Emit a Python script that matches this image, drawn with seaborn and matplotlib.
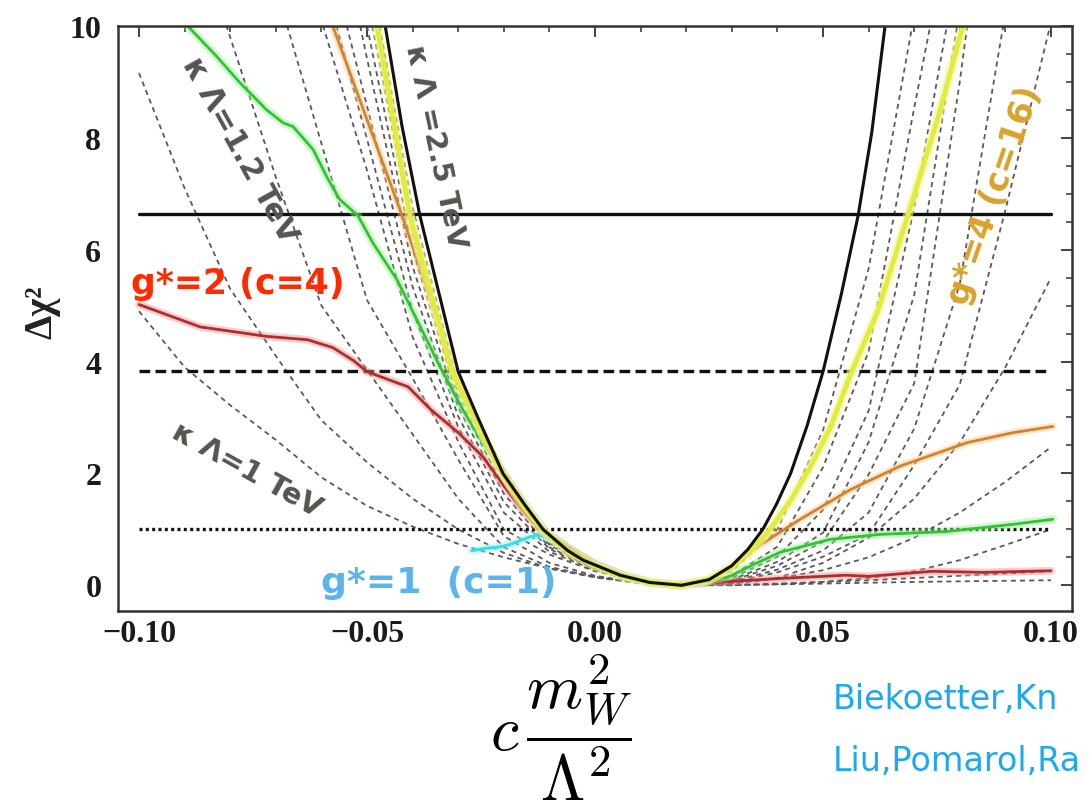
import numpy as np
import pandas as pd
import matplotlib
matplotlib.use("Agg")
import matplotlib.pyplot as plt
import seaborn as sns
from matplotlib.ticker import MultipleLocator, FixedLocator

# ---------------- data ----------------
x_grid = [-0.10, -0.09, -0.08, -0.07, -0.06, -0.05, -0.04, -0.03, -0.02, -0.01,
          0.00, 0.01, 0.02, 0.03, 0.04, 0.05, 0.06, 0.07, 0.08, 0.09, 0.10]

# dashed gray family (kappa*Lambda truncation curves)
dash_1 = [4.9, 3.9, 3.22, 2.6, 1.93, 1.42, 1.05, 0.74, 0.5, 0.3, 0.15, 0.04, 0.0,
          0.005, 0.015, 0.03, 0.045, 0.06, 0.07, 0.08, 0.09]
dash_2 = [9.16, 7.1, 5.3, 4.1, 2.95, 2.2, 1.55, 1.0, 0.58, 0.3, 0.14, 0.035, 0.0,
          0.01, 0.03, 0.06, 0.09, 0.13, 0.17, 0.21, 0.25]
dash_3 = [14.8, 12.3, 9.8, 7.3, 5.0, 3.85, 2.7, 1.55, 0.68, 0.33, 0.15, 0.04, 0.0,
          0.0, 0.02, 0.06, 0.13, 0.25, 0.45, 0.72, 1.0]
dash_4 = [19.0, 16.3, 13.5, 10.7, 7.9, 5.1, 3.7, 2.25, 0.88, 0.4, 0.17, 0.045, 0.0,
          0.03, 0.12, 0.27, 0.5, 0.85, 1.3, 1.85, 2.47]
dash_5 = [20.9, 18.2, 15.5, 12.8, 10.1, 7.42, 4.44, 2.57, 1.0, 0.55, 0.25, 0.06, 0.0,
          0.03, 0.13, 0.4, 0.85, 1.55, 2.55, 3.9, 5.5]
dash_6 = [23.2, 20.2, 17.1, 14.1, 11.0, 7.98, 4.9, 2.83, 1.3, 0.6, 0.27, 0.065, 0.0,
          0.057, 0.23, 0.51, 0.91, 2.15, 3.59, 6.71, 10.07]
dash_7 = [24.9, 21.6, 18.3, 15.1, 11.8, 8.57, 5.34, 3.02, 1.49, 0.65, 0.28, 0.07, 0.0,
          0.07, 0.28, 0.62, 1.3, 2.8, 5.39, 10.24, 15.0]
dash_8 = [28.9, 25.0, 21.1, 17.2, 13.3, 9.42, 5.7, 3.18, 1.64, 0.68, 0.29, 0.07, 0.0,
          0.087, 0.35, 0.78, 1.98, 3.61, 9.01, 15.2, 21.3]
dash_9 = [30.7, 26.5, 22.4, 18.3, 14.1, 10.0, 6.01, 3.3, 1.77, 0.72, 0.3, 0.07, 0.0,
          0.1, 0.42, 0.94, 2.56, 5.19, 10.3, 15.4, 20.6]
dash_10 = [31.9, 27.6, 23.3, 19.0, 14.8, 10.5, 6.27, 3.41, 1.88, 0.75, 0.31, 0.075, 0.0,
           0.13, 0.51, 1.35, 3.12, 6.75, 11.3, 15.8, 20.4]
dash_11 = [32.9, 28.5, 24.1, 19.7, 15.3, 10.9, 6.51, 3.5, 1.99, 0.78, 0.32, 0.075, 0.0,
           0.17, 0.69, 2.11, 4.18, 8.54, 12.7, 16.9, 21.1]
dash_12 = [33.5, 29.1, 24.6, 20.2, 15.7, 11.25, 6.75, 3.58, 2.08, 0.8, 0.33, 0.08, 0.0,
           0.25, 1.0, 2.77, 5.66, 10.2, 14.8, 19.4, 24.0]
dashed_family = [dash_1, dash_2, dash_3, dash_4, dash_5, dash_6,
                 dash_7, dash_8, dash_9, dash_10, dash_11, dash_12]

# coloured profiles
red_x = [-0.100, -0.0866, -0.072, -0.063, -0.0575, -0.053, -0.050, -0.0434, -0.041,
         -0.036, -0.030, -0.0246, -0.020, -0.016, -0.012, -0.006, 0.0, 0.006, 0.012,
         0.018, 0.026, 0.040, 0.055, 0.060, 0.074, 0.085, 0.100]
red_y = [5.02, 4.62, 4.45, 4.39, 4.25, 4.02, 3.82, 3.62, 3.55, 3.14, 2.73, 2.3, 1.78,
         1.35, 0.98, 0.65, 0.38, 0.18, 0.05, 0.0, 0.05, 0.12, 0.18, 0.16, 0.25, 0.23, 0.26]

green_x = [-0.092, -0.0893, -0.0829, -0.0778, -0.072, -0.0684, -0.0662, -0.0618, -0.0588,
           -0.056, -0.052, -0.0487, -0.0434, -0.0412, -0.034, -0.029, -0.0246, -0.020,
           -0.015, -0.011, -0.005, 0.0, 0.006, 0.012, 0.018, 0.025, 0.0296, 0.035,
           0.0406, 0.0515, 0.0625, 0.077, 0.0917, 0.1004]
green_y = [10.3, 10.0, 9.45, 8.98, 8.5, 8.27, 8.2, 7.79, 7.3, 6.9, 6.61, 6.12, 5.46, 5.1,
           3.91, 3.14, 2.55, 2.0, 1.4, 0.97, 0.62, 0.38, 0.18, 0.05, 0.0, 0.08, 0.16,
           0.38, 0.59, 0.82, 0.91, 0.96, 1.09, 1.18]

orange_x = [-0.060, -0.0575, -0.0423, -0.036, -0.031, -0.025, -0.020, -0.015, -0.011,
            -0.005, 0.0, 0.006, 0.012, 0.018, 0.025, 0.030, 0.034, 0.0377, 0.045, 0.056,
            0.0669, 0.0816, 0.0917, 0.1004]
orange_y = [10.8, 10.0, 6.61, 5.1, 3.82, 2.75, 2.0, 1.38, 0.97, 0.62, 0.38, 0.19, 0.05,
            0.0, 0.1, 0.35, 0.6, 0.8, 1.18, 1.71, 2.13, 2.55, 2.73, 2.84]

yellow_x = [-0.050, -0.0478, -0.0406, -0.0314, -0.027, -0.021, -0.016, -0.0118, -0.006,
            0.0, 0.0055, 0.012, 0.019, 0.025, 0.030, 0.0345, 0.0384, 0.043, 0.047,
            0.0515, 0.0563, 0.062, 0.0686, 0.075, 0.0807, 0.083]
yellow_y = [11.0, 10.0, 6.61, 3.82, 3.1, 2.1, 1.45, 1.0, 0.6, 0.35, 0.17, 0.05, 0.0,
            0.1, 0.32, 0.64, 1.0, 1.53, 2.08, 2.8, 3.82, 4.9, 6.61, 8.3, 10.0, 10.7]

black_x = [-0.048, -0.046, -0.0423, -0.0384, -0.034, -0.030, -0.0257, -0.0202, -0.0155,
           -0.0114, -0.006, -0.0026, 0.0055, 0.012, 0.019, 0.025, 0.030, 0.0335, 0.0368,
           0.0398, 0.0429, 0.0465, 0.050, 0.054, 0.0577, 0.0607, 0.0636, 0.065]
black_y = [11.0, 10.0, 8.2, 6.61, 5.15, 3.82, 3.0, 2.0, 1.45, 1.0, 0.62, 0.45, 0.18,
           0.05, 0.0, 0.1, 0.35, 0.64, 1.0, 1.45, 2.0, 2.85, 3.82, 5.2, 6.61, 8.1, 10.0,
           10.8]

cyan_x = [-0.027, -0.024, -0.0215, -0.019, -0.017, -0.0145, -0.0125, -0.0105, -0.008,
          -0.004, 0.0, 0.006, 0.012, 0.018, 0.024]
cyan_y = [0.62, 0.66, 0.68, 0.72, 0.78, 0.86, 0.9, 0.86, 0.76, 0.57, 0.38, 0.18, 0.06,
          0.01, 0.03]

# confidence-level reference lines
cl_levels = [6.63, 3.84, 1.0]
cl_span = [-0.100, 0.100]

x_ticks = [-0.10, -0.05, 0.00, 0.05, 0.10]
x_tick_labels = ["\u22120.10", "\u22120.05", "0.00", "0.05", "0.10"]
y_ticks = [0, 2, 4, 6, 8, 10]
y_tick_labels = ["0", "2", "4", "6", "8", "10"]

# ---------------- figure ----------------
sns.set_style("white")
plt.rcParams["mathtext.fontset"] = "cm"

fig = plt.figure(figsize=(10.89, 8.04), dpi=100)
ax = fig.add_axes([118 / 1089, 1 - 612 / 804, (1072 - 118) / 1089, (612 - 27) / 804])

# dashed family
rows = []
for i, ys in enumerate(dashed_family):
    for xv, yv in zip(x_grid, ys):
        rows.append({"x": xv, "y": yv, "curve": i})
df_dash = pd.DataFrame(rows)
sns.lineplot(data=df_dash, x="x", y="y", units="curve", estimator=None, sort=False,
             color="#5a5a5a", lw=1.3, linestyle=(0, (2.8, 2.3)), ax=ax, legend=False)

# reference lines
cl_styles = [dict(color="#111111", lw=2.4, linestyle="-"),
             dict(color="#111111", lw=2.4, linestyle=(0, (3.2, 1.6))),
             dict(color="#111111", lw=2.4, linestyle=(0, (0.9, 1.0)))]
for lev, st in zip(cl_levels, cl_styles):
    sns.lineplot(x=cl_span, y=[lev, lev], ax=ax, sort=False, estimator=None, **st)


def glow_line(xs, ys, core, glow, lw_core, lw_glow, alpha_glow=0.45):
    sns.lineplot(x=xs, y=ys, ax=ax, sort=False, estimator=None, color=glow,
                 lw=lw_glow, alpha=alpha_glow, solid_capstyle="round")
    sns.lineplot(x=xs, y=ys, ax=ax, sort=False, estimator=None, color=core,
                 lw=lw_core, solid_capstyle="round")


glow_line(red_x, red_y, "#a8302e", "#ff8a8a", 2.0, 5.5)
glow_line(cyan_x, cyan_y, "#38e0e6", "#9ff5f5", 2.2, 6.0)
glow_line(green_x, green_y, "#34c234", "#95f095", 2.0, 6.0)
glow_line(orange_x, orange_y, "#d0842c", "#fbc98c", 2.0, 5.5)
glow_line(yellow_x, yellow_y, "#e2ec3c", "#f4f8a0", 3.5, 7.0, 0.6)
sns.lineplot(x=black_x, y=black_y, ax=ax, sort=False, estimator=None,
             color="#111111", lw=2.2)

# axes styling
ax.set_xlim(-0.1046, 0.1046)
ax.set_ylim(-0.46, 10.0)
ax.xaxis.set_major_locator(FixedLocator(x_ticks))
ax.yaxis.set_major_locator(FixedLocator(y_ticks))
ax.xaxis.set_minor_locator(MultipleLocator(0.01))
ax.yaxis.set_minor_locator(MultipleLocator(0.5))
ax.set_xticklabels(x_tick_labels)
ax.set_yticklabels(y_tick_labels)
ax.set_xlabel("")
ax.set_ylabel("")
for lab in ax.get_xticklabels() + ax.get_yticklabels():
    lab.set_fontfamily("Liberation Serif")
    lab.set_fontweight("bold")
    lab.set_fontsize(23)
    lab.set_color("#1a1a1a")
ax.tick_params(which="both", direction="in", top=True, right=True, color="#333333")
ax.tick_params(which="major", length=8, width=1.3)
ax.tick_params(axis="x", which="major", pad=6)
ax.tick_params(axis="y", which="major", pad=12)
ax.tick_params(which="minor", length=4.5, width=1.1)
for sp in ax.spines.values():
    sp.set_linewidth(1.8)
    sp.set_color("#333333")

# annotations
hand = dict(fontfamily="DejaVu Sans", fontweight="bold", ha="center", va="center")
ax.text(-0.0779, 7.79, "\u03ba \u039b=1.2 TeV", rotation=-61, fontsize=22,
        color="#57534e", **hand)
ax.text(-0.0350, 7.85, "\u03ba \u039b =2.5 TeV", rotation=-78, fontsize=21,
        color="#57534e", **hand)
ax.text(-0.0783, 5.41, "g*=2 (c=4)", rotation=0, fontsize=25, color="#ff2a00", **hand)
ax.text(-0.0763, 2.07, "\u03ba \u039b=1 TeV", rotation=-29, fontsize=21,
        color="#57534e", **hand)
ax.text(-0.0342, 0.05, "g*=1  (c=1)", rotation=0, fontsize=26, color="#5ab4ee", **hand)
ax.text(0.0877, 6.98, "g*=4 (c=16)", rotation=71, fontsize=24, color="#d9a22b", **hand)

# axis titles
fig.text(42 / 1089, 1 - 312 / 804, "\u0394\u03c7\u00b2", rotation=90, ha="center",
         va="center", fontsize=28, fontweight="bold", fontfamily="Liberation Serif",
         color="#222222")
fig.text(561 / 1089, 1 - 728 / 804, r"$c\,\dfrac{m_W^2}{\Lambda^2}$", ha="center",
         va="center", fontsize=46, color="black")

# citation (only the part visible in the reference)
fig.text(833 / 1089, 1 - 700 / 804, "Biekoetter,Kn", ha="left",
         va="center", fontsize=24, color="#1ea8ee", fontfamily="DejaVu Sans")
fig.text(833 / 1089, 1 - 762 / 804, "Liu,Pomarol,Ra", ha="left",
         va="center", fontsize=24, color="#1ea8ee", fontfamily="DejaVu Sans")

fig.savefig("out.png", dpi=100)
